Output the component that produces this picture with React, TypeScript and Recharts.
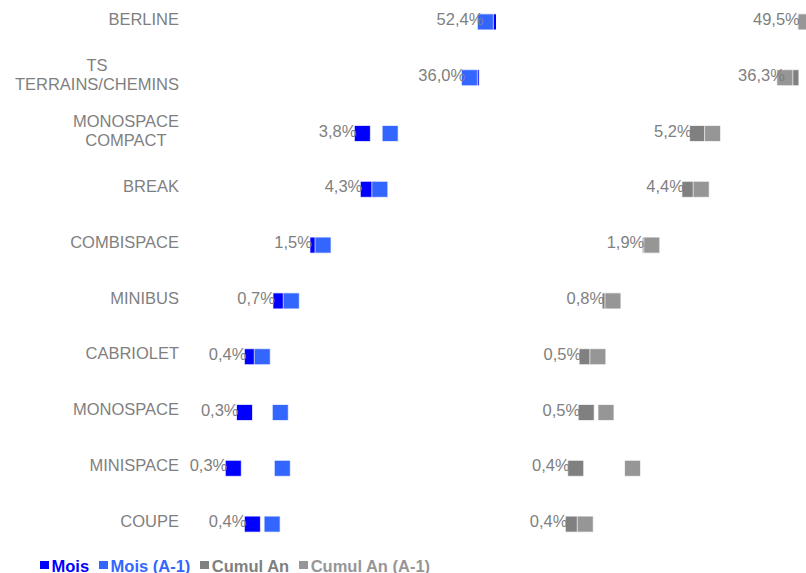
import React from "react";
import { ComposedChart, Line, XAxis, YAxis } from "recharts";

// categories (line breaks as in the original chart)
const categories = [
  "BERLINE",
  "TS\nTERRAINS/CHEMINS",
  "MONOSPACE\nCOMPACT",
  "BREAK",
  "COMBISPACE",
  "MINIBUS",
  "CABRIOLET",
  "MONOSPACE",
  "MINISPACE",
  "COUPE",
];

// part of the segment, in %
const moisValues = [52.4, 36.0, 3.84, 4.34, 1.54, 0.72, 0.4, 0.34, 0.27, 0.4];
const moisPrevValues = [48.2, 34.7, 6.8, 5.5, 1.71, 0.89, 0.49, 0.71, 0.74, 0.6];
const cumulValues = [49.5, 36.3, 5.2, 4.43, 1.94, 0.84, 0.52, 0.51, 0.41, 0.39];
const cumulPrevValues = [49.8, 32.0, 7.1, 5.6, 2.0, 0.89, 0.65, 0.77, 1.34, 0.5];

const seriesNames = ["Mois", "Mois (A-1)", "Cumul An", "Cumul An (A-1)"];
const seriesColors = ["#0000ff", "#3366ff", "#808080", "#969696"];

const data = categories.map((name, i) => ({
  name,
  mois: moisValues[i],
  moisPrev: moisPrevValues[i],
  cumul: cumulValues[i],
  cumulPrev: cumulPrevValues[i],
}));

const FONT = "'Liberation Sans', Arial, sans-serif";
const TEXT = "#7f7f7f";
const FS = 16.5;

let ctx: CanvasRenderingContext2D | null = null;
function textWidth(s: string) {
  if (!ctx) ctx = document.createElement("canvas").getContext("2d");
  if (!ctx) return s.length * 9;
  ctx.font = `${FS}px ${FONT}`;
  return ctx.measureText(s).width;
}

function CategoryTick(props: any) {
  const { x, y, payload } = props;
  const lines = String(payload.value).split("\n");
  const w = Math.max(...lines.map(textWidth));
  const cx = lines.length > 1 ? x - w / 2 : x;
  return (
    <g>
      {lines.map((l, i) => (
        <text
          key={i}
          x={cx}
          y={y + 2.7 + (i - (lines.length - 1) / 2) * 19.3}
          textAnchor={lines.length > 1 ? "middle" : "end"}
          fontFamily={FONT}
          fontSize={FS}
          fill={TEXT}
        >
          {l}
        </text>
      ))}
    </g>
  );
}

const squareDot = (color: string) => (props: any) => {
  const { cx, cy, index } = props;
  if (cx == null || cy == null) return <g key={index} />;
  return (
    <rect
      key={index}
      x={cx - 8}
      y={cy - 8}
      width={16}
      height={16}
      fill={color}
      stroke="#ffffff"
      strokeOpacity={0.7}
      strokeWidth={1}
    />
  );
};

const valueLabel = (props: any) => {
  const { x, y, value, index } = props;
  if (x == null || value == null) return null;
  return (
    <text
      key={index}
      x={x - 6}
      y={y + 3}
      textAnchor="end"
      fontFamily={FONT}
      fontSize={FS}
      fill={TEXT}
    >
      {Number(value).toFixed(1).replace(".", ",") + "%"}
    </text>
  );
};

function Panel({
  width,
  left,
  showAxis,
  cur,
  prev,
  c1,
  c2,
}: {
  width: number;
  left: number;
  showAxis: boolean;
  cur: string;
  prev: string;
  c1: string;
  c2: string;
}) {
  return (
    <div style={{ position: "absolute", left, top: -6.4 }}>
      <ComposedChart
        layout="vertical"
        width={width}
        height={558}
        data={data}
        margin={{ top: 0, right: 0, bottom: 0, left: 0 }}
      >
        <XAxis type="number" scale="log" domain={[0.1, 60]} allowDataOverflow hide />
        <YAxis
          type="category"
          dataKey="name"
          width={185}
          hide={!showAxis}
          axisLine={false}
          tickLine={false}
          tickSize={0}
          tickMargin={6}
          interval={0}
          padding={{ top: 27.9, bottom: 27.9 }}
          tick={<CategoryTick />}
        />
        <Line dataKey={cur} stroke="none" dot={squareDot(c1)} activeDot={false} isAnimationActive={false} />
        <Line dataKey={prev} stroke="none" dot={squareDot(c2)} activeDot={false} isAnimationActive={false} />
        <Line
          dataKey={cur}
          stroke="none"
          dot={false}
          activeDot={false}
          label={valueLabel}
          isAnimationActive={false}
        />
      </ComposedChart>
    </div>
  );
}

export default function App() {
  return (
    <div
      style={{
        position: "absolute",
        left: 0,
        top: 0,
        width: 806,
        height: 573,
        overflow: "hidden",
        background: "#fff",
        fontFamily: FONT,
      }}
    >
      <Panel width={496} left={0} showAxis cur="mois" prev="moisPrev" c1={seriesColors[0]} c2={seriesColors[1]} />
      <Panel width={307} left={508.4} showAxis={false} cur="cumul" prev="cumulPrev" c1={seriesColors[2]} c2={seriesColors[3]} />
      <div
        style={{
          position: "absolute",
          left: 40,
          top: 556.5,
          display: "flex",
          alignItems: "center",
          fontSize: 16.5,
          lineHeight: "18px",
          fontWeight: "bold",
          whiteSpace: "nowrap",
        }}
      >
        {seriesNames.map((n, i) => (
          <div key={n} style={{ display: "flex", alignItems: "center", marginRight: 10 }}>
            <span
              style={{ display: "inline-block", width: 8.5, height: 8.5, background: seriesColors[i], marginRight: 3, marginTop: -1 }}
            />
            <span style={{ color: seriesColors[i] }}>{n}</span>
          </div>
        ))}
      </div>
    </div>
  );
}
